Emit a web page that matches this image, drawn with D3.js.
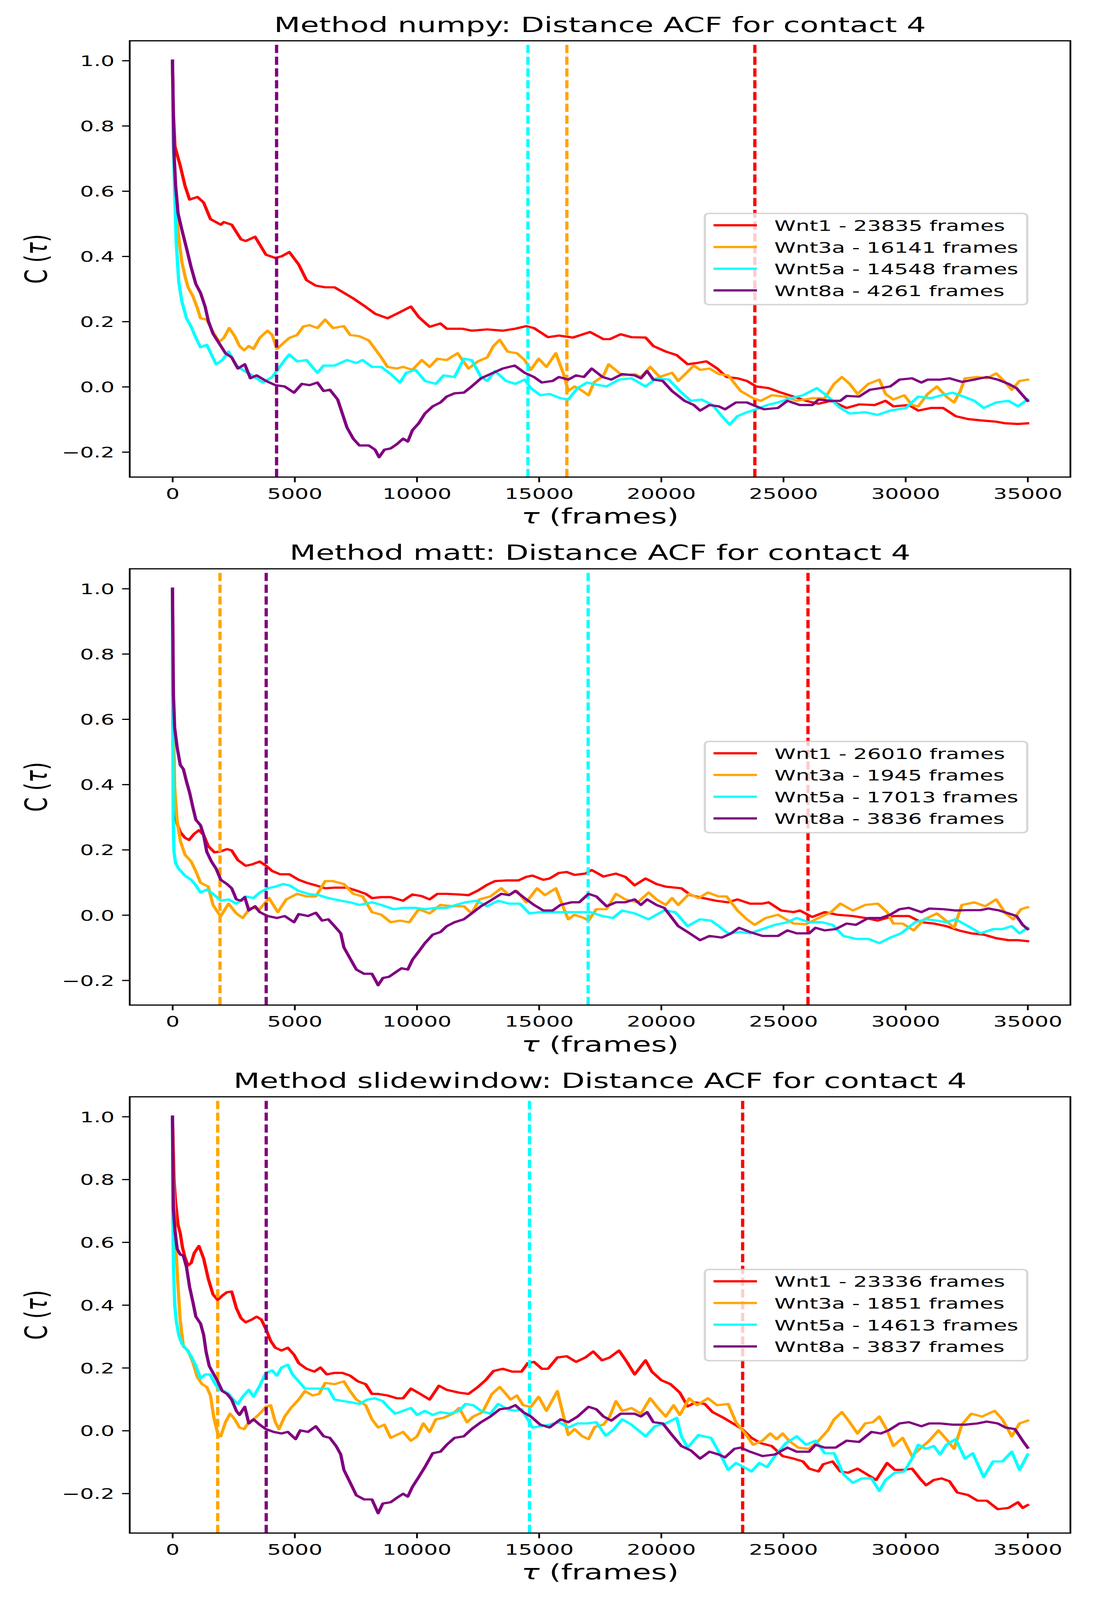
<!DOCTYPE html>
<html>
<head>
<meta charset="utf-8">
<script src="https://cdn.jsdelivr.net/npm/d3@7"></script>
<style>
  body { margin: 0; background: #fff; overflow: hidden; }
  svg { display: block; font-family: "DejaVu Sans", sans-serif; }
</style>
</head>
<body>
<div id="chart"></div>
<script>
// ACF curves, [tau (frames), C(tau)]
const numpyWnt1 = [[0,1.0],[30,0.847],[100,0.737],[320,0.677],[510,0.617],[700,0.574],[1020,0.582],[1275,0.565],[1556,0.514],[1977,0.497],[2100,0.505],[2423,0.497],[2806,0.452],[2998,0.447],[3380,0.46],[3826,0.405],[4209,0.395],[4464,0.4],[4783,0.413],[5166,0.375],[5485,0.327],[5867,0.31],[6250,0.305],[6633,0.305],[7015,0.288],[7398,0.271],[7908,0.245],[8291,0.224],[8801,0.21],[9184,0.224],[9758,0.246],[10077,0.214],[10523,0.184],[10969,0.194],[11224,0.178],[11862,0.178],[12245,0.172],[12883,0.176],[13520,0.172],[14031,0.178],[14477,0.186],[14796,0.18],[15370,0.152],[15816,0.157],[16390,0.151],[17092,0.168],[17640,0.146],[17895,0.146],[18342,0.161],[18788,0.152],[19362,0.151],[19681,0.125],[20191,0.108],[20638,0.097],[21084,0.069],[21467,0.073],[21850,0.078],[22296,0.056],[22679,0.03],[23125,0.026],[23508,0.018],[23890,0.001],[24400,-0.004],[24911,-0.018],[25421,-0.03],[25931,-0.043],[26441,-0.052],[26952,-0.043],[27590,-0.065],[28100,-0.054],[28737,-0.056],[29184,-0.043],[29503,-0.06],[30140,-0.056],[30523,-0.073],[31033,-0.065],[31543,-0.065],[32054,-0.09],[32564,-0.099],[33074,-0.103],[33712,-0.107],[34095,-0.112],[34605,-0.114],[35000,-0.112]];
const numpyWnt3a = [[0,1.0],[30,0.747],[128,0.547],[255,0.46],[383,0.383],[510,0.34],[638,0.305],[829,0.279],[1020,0.241],[1148,0.21],[1403,0.206],[1658,0.168],[1913,0.138],[2105,0.15],[2321,0.18],[2551,0.155],[2742,0.125],[2934,0.112],[3125,0.125],[3316,0.116],[3571,0.15],[3890,0.172],[4082,0.159],[4273,0.116],[4464,0.129],[4783,0.15],[5102,0.159],[5357,0.185],[5612,0.189],[5931,0.18],[6250,0.206],[6569,0.18],[7015,0.186],[7270,0.159],[7653,0.155],[8036,0.142],[8291,0.116],[8546,0.09],[8801,0.061],[9184,0.056],[9439,0.061],[9821,0.052],[10204,0.082],[10523,0.061],[10842,0.086],[11224,0.082],[11671,0.103],[12117,0.056],[12500,0.078],[12883,0.09],[13138,0.125],[13393,0.144],[13712,0.108],[14094,0.103],[14413,0.082],[14668,0.052],[14987,0.086],[15306,0.061],[15689,0.103],[16008,0.039],[16199,-0.013],[16454,0.001],[16709,-0.009],[17028,-0.026],[17258,0.014],[17640,0.034],[17850,0.069],[18406,0.035],[18916,0.039],[19171,0.03],[19554,0.061],[19936,0.03],[20446,0.043],[20701,0.018],[21339,0.065],[21594,0.052],[21977,0.056],[22360,0.039],[22743,0.035],[23253,-0.013],[23763,-0.035],[24082,-0.043],[24528,-0.026],[25038,-0.03],[25548,-0.043],[26186,-0.035],[26697,-0.035],[27079,0.009],[27398,0.03],[27717,0.009],[28036,-0.022],[28482,0.009],[28929,0.022],[29184,-0.022],[29503,-0.039],[29949,-0.026],[30268,-0.056],[30523,-0.06],[30906,-0.022],[31288,0.001],[31671,-0.03],[31990,-0.048],[32245,-0.013],[32436,0.026],[32946,0.03],[33329,0.026],[33712,0.041],[34031,0.018],[34350,-0.009],[34669,0.018],[35000,0.022]];
const numpyWnt5a = [[0,1.0],[38,0.747],[102,0.565],[153,0.443],[255,0.323],[383,0.262],[574,0.21],[765,0.184],[957,0.15],[1148,0.121],[1403,0.129],[1594,0.099],[1786,0.069],[2041,0.082],[2296,0.108],[2615,0.065],[2870,0.052],[3253,0.035],[3699,0.013],[4082,0.03],[4337,0.056],[4592,0.082],[4783,0.099],[5102,0.078],[5485,0.082],[5931,0.043],[6186,0.065],[6633,0.065],[7143,0.082],[7526,0.073],[7781,0.082],[8163,0.061],[8546,0.061],[8929,0.039],[9311,0.013],[9566,0.043],[9949,0.052],[10332,0.018],[10778,0.009],[11097,0.035],[11543,0.03],[11926,0.086],[12245,0.082],[12628,0.03],[12883,0.018],[13202,0.048],[13648,0.018],[14031,0.009],[14413,0.022],[14668,-0.004],[15051,-0.026],[15434,-0.022],[15880,-0.035],[16199,-0.039],[16582,-0.004],[16964,0.013],[17474,0.005],[17768,0.001],[18278,0.022],[18788,0.026],[19362,0.001],[19809,0.026],[20319,0.022],[20765,-0.013],[21212,-0.043],[21658,-0.039],[22105,-0.056],[22487,-0.09],[22806,-0.116],[23125,-0.09],[23508,-0.078],[23890,-0.069],[24337,-0.056],[24783,-0.048],[25293,-0.035],[25804,-0.026],[26377,-0.004],[26824,-0.03],[27334,-0.065],[27717,-0.082],[28355,-0.078],[28865,-0.086],[29375,-0.073],[30013,-0.065],[30523,-0.03],[31033,-0.035],[31480,-0.026],[31926,-0.018],[32373,-0.03],[32819,-0.043],[33202,-0.065],[33712,-0.048],[34222,-0.043],[34605,-0.06],[35000,-0.039]];
const numpyWnt8a = [[0,1.0],[64,0.717],[128,0.617],[230,0.531],[383,0.482],[574,0.425],[765,0.366],[957,0.315],[1148,0.288],[1339,0.245],[1467,0.202],[1658,0.163],[1913,0.133],[2168,0.103],[2423,0.09],[2679,0.056],[2959,0.069],[3189,0.026],[3444,0.035],[3826,0.018],[4209,0.005],[4592,0.001],[4974,-0.018],[5293,0.009],[5612,0.005],[5931,0.013],[6186,-0.013],[6441,-0.009],[6760,-0.039],[6952,-0.082],[7143,-0.125],[7398,-0.159],[7653,-0.18],[8036,-0.18],[8291,-0.193],[8457,-0.216],[8673,-0.193],[8929,-0.189],[9184,-0.176],[9439,-0.159],[9630,-0.168],[9821,-0.133],[10077,-0.112],[10332,-0.082],[10651,-0.06],[10969,-0.048],[11224,-0.03],[11543,-0.02],[11926,-0.018],[12245,0.001],[12628,0.026],[13010,0.039],[13520,0.056],[14005,0.065],[14413,0.043],[14796,0.03],[15115,0.013],[15561,0.018],[15816,0.03],[16199,0.022],[16518,0.035],[16837,0.03],[17156,0.056],[17602,0.03],[17959,0.022],[18406,0.039],[18916,0.035],[19171,0.026],[19426,0.048],[19681,0.022],[20064,0.018],[20446,-0.013],[20957,-0.043],[21339,-0.056],[21594,-0.073],[21977,-0.056],[22360,-0.06],[22615,-0.069],[23061,-0.048],[23508,-0.048],[23890,-0.06],[24209,-0.069],[24783,-0.065],[25166,-0.043],[25676,-0.056],[26186,-0.056],[26441,-0.039],[26952,-0.043],[27334,-0.043],[27590,-0.028],[28100,-0.03],[28546,-0.009],[28992,-0.004],[29375,0.001],[29758,0.022],[30268,0.026],[30651,0.013],[30906,0.022],[31416,0.022],[31799,0.026],[32309,0.015],[32819,0.022],[33329,0.03],[33775,0.022],[34222,0.009],[34541,-0.004],[34796,-0.026],[35000,-0.043]];

const mattWnt1 = [[0,1.0],[26,0.597],[89,0.323],[191,0.279],[319,0.254],[510,0.237],[676,0.23],[893,0.249],[1084,0.26],[1276,0.245],[1467,0.211],[1722,0.192],[1977,0.195],[2232,0.202],[2423,0.198],[2679,0.168],[2997,0.151],[3253,0.155],[3571,0.164],[3827,0.151],[4082,0.135],[4401,0.125],[4783,0.125],[5166,0.108],[5485,0.099],[5867,0.091],[6250,0.082],[6633,0.084],[7143,0.084],[7526,0.075],[7908,0.065],[8163,0.052],[8546,0.055],[8929,0.055],[9439,0.044],[9821,0.063],[10204,0.058],[10523,0.048],[10842,0.065],[11224,0.065],[11735,0.063],[12117,0.061],[12500,0.075],[12883,0.093],[13202,0.104],[13648,0.106],[14158,0.106],[14477,0.117],[14732,0.121],[15178,0.108],[15434,0.112],[15816,0.129],[16135,0.132],[16454,0.123],[16900,0.127],[17156,0.138],[17640,0.118],[18150,0.127],[18533,0.117],[18916,0.091],[19362,0.112],[19809,0.095],[20191,0.087],[20829,0.082],[21212,0.061],[21722,0.052],[22232,0.044],[22742,0.039],[23125,0.048],[23635,0.035],[24145,0.035],[24400,0.039],[24911,0.014],[25421,0.009],[25676,0.014],[26186,-0.006],[26697,0.009],[27206,0.001],[27844,-0.003],[28355,-0.009],[28865,-0.017],[29503,-0.003],[30140,-0.003],[30651,-0.022],[31161,-0.026],[31671,-0.034],[32181,-0.047],[32691,-0.056],[33202,-0.06],[33712,-0.071],[34222,-0.077],[34605,-0.077],[35000,-0.08]];
const mattWnt3a = [[0,1.0],[38,0.597],[89,0.392],[191,0.288],[319,0.228],[510,0.185],[765,0.164],[957,0.134],[1148,0.099],[1467,0.087],[1658,0.031],[1850,0.009],[1977,-0.003],[2296,0.035],[2615,0.005],[2870,-0.009],[3189,0.022],[3571,0.018],[3954,0.052],[4311,0.009],[4656,0.048],[5102,0.065],[5485,0.057],[5867,0.057],[6250,0.104],[6569,0.104],[7015,0.095],[7398,0.065],[7781,0.057],[8163,0.009],[8546,0.001],[8929,-0.022],[9311,-0.017],[9694,-0.022],[10077,0.018],[10523,0.005],[10969,0.031],[11479,0.027],[11926,0.027],[12245,0.005],[12564,0.048],[13010,0.057],[13457,0.082],[13776,0.061],[14094,0.074],[14477,0.039],[14923,0.082],[15242,0.061],[15689,0.082],[16008,0.022],[16199,-0.013],[16454,0.001],[16837,-0.009],[17028,-0.017],[17347,0.018],[17768,0.018],[18150,0.065],[18533,0.048],[19043,0.039],[19490,0.069],[19809,0.048],[20191,0.031],[20446,0.052],[20701,0.031],[21148,0.065],[21530,0.052],[21913,0.069],[22360,0.057],[22679,0.057],[23125,0.014],[23508,-0.013],[23827,-0.03],[24273,-0.009],[24783,0.001],[25421,-0.026],[25931,-0.028],[26441,-0.009],[26952,0.009],[27334,0.035],[27844,0.014],[28355,0.031],[28865,0.035],[29248,0.009],[29503,-0.026],[29885,-0.026],[30332,-0.047],[30778,-0.013],[31288,0.005],[31735,-0.022],[31990,-0.039],[32309,0.031],[32819,0.039],[33266,0.027],[33712,0.048],[34095,0.005],[34414,-0.013],[34733,0.018],[35000,0.024]];
const mattWnt5a = [[0,1.0],[10,0.597],[30,0.295],[60,0.194],[128,0.159],[255,0.142],[510,0.121],[765,0.108],[957,0.091],[1148,0.069],[1403,0.078],[1658,0.065],[1977,0.044],[2296,0.048],[2615,0.035],[2997,0.057],[3316,0.052],[3571,0.069],[3890,0.082],[4209,0.087],[4528,0.095],[4783,0.091],[5166,0.074],[5548,0.065],[5995,0.061],[6377,0.052],[6888,0.044],[7270,0.039],[7653,0.031],[8163,0.039],[8546,0.031],[9056,0.018],[9439,0.022],[9949,0.022],[10332,0.018],[10778,0.022],[11224,0.022],[11607,0.031],[11990,0.039],[12436,0.044],[12883,0.027],[13329,0.044],[13776,0.035],[14222,0.035],[14605,0.005],[15051,0.009],[15561,0.009],[16071,0.009],[16582,0.009],[17092,0.009],[17602,-0.003],[18023,-0.009],[18406,0.014],[18916,0.005],[19490,-0.013],[19809,0.001],[20128,0.014],[20574,0.009],[21084,-0.034],[21594,-0.013],[22041,-0.017],[22360,-0.034],[22742,-0.056],[23253,-0.052],[23635,-0.056],[24145,-0.043],[24656,-0.03],[25166,-0.022],[25548,-0.009],[26059,-0.022],[26569,-0.022],[27015,-0.03],[27462,-0.064],[27972,-0.073],[28482,-0.073],[28929,-0.086],[29375,-0.069],[29821,-0.056],[30395,-0.022],[30842,-0.013],[31288,-0.017],[31671,-0.022],[32054,-0.013],[32564,-0.034],[33074,-0.056],[33584,-0.043],[33967,-0.043],[34350,-0.034],[34669,-0.056],[35000,-0.039]];
const mattWnt8a = [[0,1.0],[38,0.677],[89,0.574],[191,0.514],[319,0.46],[446,0.447],[574,0.409],[702,0.375],[829,0.332],[957,0.292],[1148,0.275],[1276,0.245],[1403,0.194],[1595,0.164],[1786,0.142],[1977,0.108],[2232,0.095],[2423,0.082],[2615,0.048],[2806,0.044],[2959,0.055],[3125,0.014],[3380,0.027],[3571,0.009],[3890,-0.003],[4273,-0.009],[4592,-0.003],[4974,-0.022],[5166,0.003],[5548,-0.003],[5867,0.007],[6122,-0.017],[6377,-0.013],[6633,-0.034],[6888,-0.056],[7015,-0.099],[7270,-0.133],[7526,-0.167],[7844,-0.18],[8163,-0.18],[8291,-0.197],[8418,-0.215],[8610,-0.193],[8865,-0.189],[9120,-0.176],[9375,-0.163],[9630,-0.167],[9821,-0.137],[10077,-0.112],[10332,-0.086],[10651,-0.06],[10969,-0.052],[11224,-0.034],[11543,-0.022],[11926,-0.013],[12245,0.005],[12628,0.027],[13010,0.044],[13457,0.065],[13776,0.061],[14031,0.074],[14413,0.052],[14796,0.031],[15178,0.014],[15561,0.014],[15880,0.031],[16327,0.039],[16646,0.039],[17028,0.065],[17347,0.057],[17768,0.027],[18150,0.039],[18533,0.039],[18916,0.048],[19171,0.031],[19426,0.048],[19809,0.031],[20128,0.022],[20383,-0.003],[20701,-0.034],[21084,-0.052],[21594,-0.077],[21977,-0.064],[22487,-0.069],[22870,-0.056],[23189,-0.039],[23635,-0.052],[24145,-0.064],[24783,-0.064],[25166,-0.047],[25548,-0.056],[26059,-0.056],[26314,-0.039],[26697,-0.047],[27143,-0.043],[27590,-0.026],[27972,-0.03],[28482,-0.009],[28992,-0.009],[29375,0.001],[29758,0.018],[30140,0.022],[30651,0.009],[30970,0.02],[31543,0.018],[32054,0.014],[32564,0.015],[33074,0.015],[33393,0.02],[33839,0.014],[34222,0.005],[34541,-0.003],[34796,-0.03],[35000,-0.043]];

const slideWnt1 = [[0,1.0],[64,0.797],[128,0.726],[230,0.655],[319,0.628],[408,0.584],[510,0.552],[638,0.526],[765,0.534],[893,0.566],[1084,0.588],[1276,0.548],[1467,0.483],[1658,0.434],[1850,0.416],[2041,0.43],[2232,0.441],[2423,0.443],[2615,0.39],[2806,0.358],[2997,0.345],[3253,0.354],[3444,0.363],[3635,0.354],[3827,0.323],[4018,0.286],[4209,0.264],[4464,0.255],[4719,0.264],[4974,0.242],[5166,0.215],[5485,0.197],[5804,0.188],[6059,0.201],[6314,0.179],[6633,0.184],[6952,0.184],[7270,0.175],[7589,0.157],[7908,0.148],[8163,0.117],[8418,0.117],[8801,0.112],[9184,0.103],[9439,0.103],[9758,0.134],[10140,0.117],[10523,0.099],[10906,0.143],[11224,0.13],[11735,0.121],[12117,0.117],[12500,0.139],[12819,0.161],[13138,0.19],[13520,0.197],[13903,0.188],[14286,0.188],[14541,0.215],[14796,0.219],[15115,0.197],[15370,0.197],[15753,0.233],[16135,0.237],[16518,0.219],[16900,0.233],[17219,0.252],[17577,0.224],[17895,0.233],[18278,0.255],[18597,0.219],[18916,0.179],[19362,0.224],[19617,0.188],[20000,0.161],[20383,0.148],[20765,0.121],[21084,0.077],[21403,0.09],[21786,0.085],[22105,0.059],[22551,0.041],[22934,0.023],[23316,0.005],[23699,-0.023],[24082,-0.04],[24528,-0.049],[24975,-0.081],[25421,-0.089],[25804,-0.098],[26059,-0.121],[26441,-0.13],[26633,-0.107],[27015,-0.098],[27334,-0.13],[27653,-0.134],[28036,-0.121],[28418,-0.139],[28801,-0.157],[29248,-0.103],[29566,-0.125],[29885,-0.125],[30268,-0.121],[30587,-0.152],[30842,-0.174],[31161,-0.157],[31480,-0.152],[31799,-0.161],[32118,-0.197],[32564,-0.205],[32946,-0.223],[33329,-0.223],[33775,-0.25],[34222,-0.246],[34605,-0.228],[34796,-0.246],[35000,-0.237]];
const slideWnt3a = [[0,1.0],[38,0.797],[89,0.672],[153,0.566],[230,0.457],[319,0.35],[446,0.268],[638,0.255],[829,0.219],[1020,0.17],[1212,0.148],[1403,0.139],[1556,0.112],[1684,0.045],[1850,-0.009],[1977,-0.018],[2168,0.027],[2360,0.054],[2551,0.036],[2742,0.01],[2934,0.005],[3125,0.027],[3316,0.036],[3571,0.054],[3826,0.076],[4018,0.081],[4209,0.027],[4362,0.005],[4592,0.045],[4847,0.072],[5166,0.099],[5421,0.126],[5740,0.112],[5995,0.117],[6250,0.152],[6633,0.148],[7015,0.157],[7270,0.126],[7526,0.099],[7908,0.081],[8163,0.036],[8418,0.01],[8673,0.019],[8929,-0.023],[9311,-0.009],[9439,-0.004],[9758,-0.032],[10013,-0.018],[10268,0.023],[10523,-0.004],[10778,0.036],[11097,0.041],[11479,0.054],[11735,0.072],[12054,0.027],[12309,0.045],[12692,0.059],[13074,0.117],[13393,0.139],[13648,0.117],[13840,0.099],[14094,0.112],[14350,0.081],[14668,0.076],[14987,0.108],[15306,0.063],[15561,0.099],[15753,0.126],[16008,0.045],[16199,-0.014],[16454,0.005],[16773,-0.018],[17028,-0.027],[17283,0.012],[17640,0.019],[17895,0.045],[18150,0.094],[18406,0.063],[18788,0.072],[19171,0.054],[19554,0.103],[19872,0.072],[20191,0.045],[20510,0.081],[20765,0.05],[21148,0.103],[21467,0.081],[21913,0.103],[22296,0.081],[22742,0.085],[23061,0.027],[23444,-0.009],[23763,-0.045],[24145,-0.032],[24464,-0.009],[24719,-0.027],[24975,-0.009],[25230,-0.032],[25612,-0.054],[26059,-0.058],[26441,-0.032],[26824,0.001],[27079,0.036],[27398,0.059],[27717,0.027],[28036,-0.009],[28355,0.023],[28673,0.027],[28929,0.045],[29248,0.001],[29503,-0.049],[29885,-0.023],[30268,-0.081],[30587,-0.058],[30970,-0.032],[31352,0.001],[31671,-0.027],[31990,-0.058],[32309,0.019],[32691,0.054],[33138,0.045],[33648,0.063],[33967,0.036],[34350,-0.018],[34669,0.023],[35000,0.032]];
const slideWnt5a = [[0,1.0],[13,0.707],[38,0.53],[89,0.403],[153,0.35],[255,0.305],[383,0.277],[574,0.259],[765,0.237],[957,0.206],[1148,0.166],[1339,0.179],[1531,0.179],[1722,0.152],[1913,0.13],[2105,0.126],[2296,0.117],[2487,0.099],[2679,0.085],[2870,0.108],[3125,0.13],[3316,0.108],[3571,0.143],[3826,0.184],[4082,0.192],[4273,0.175],[4464,0.201],[4719,0.21],[4911,0.179],[5166,0.157],[5421,0.134],[5740,0.134],[6059,0.134],[6377,0.134],[6633,0.099],[7015,0.094],[7334,0.09],[7653,0.085],[7972,0.099],[8291,0.103],[8610,0.094],[8865,0.072],[9120,0.054],[9439,0.063],[9758,0.072],[10013,0.05],[10332,0.063],[10651,0.05],[10969,0.059],[11352,0.054],[11735,0.063],[11990,0.085],[12309,0.081],[12628,0.063],[13010,0.054],[13329,0.085],[13712,0.068],[14031,0.063],[14286,0.068],[14541,0.036],[14732,0.01],[15051,0.014],[15434,0.019],[15816,0.027],[16199,0.01],[16582,0.023],[16964,0.023],[17347,0.027],[17729,-0.016],[18023,0.001],[18406,0.036],[18788,0.019],[19362,-0.018],[19745,0.014],[20191,0.023],[20638,0.041],[20829,-0.018],[21084,-0.054],[21530,-0.014],[22041,-0.023],[22487,-0.085],[22742,-0.125],[23061,-0.103],[23380,-0.116],[23699,-0.13],[24018,-0.103],[24337,-0.116],[24656,-0.081],[25102,-0.04],[25548,-0.018],[25931,-0.045],[26314,-0.032],[26697,-0.072],[27079,-0.072],[27462,-0.139],[27844,-0.166],[28227,-0.152],[28610,-0.152],[28929,-0.192],[29184,-0.157],[29566,-0.134],[29949,-0.13],[30268,-0.089],[30523,-0.045],[30842,-0.058],[31161,-0.049],[31416,-0.076],[31671,-0.045],[32054,-0.027],[32436,-0.089],[32755,-0.072],[33202,-0.148],[33584,-0.098],[33967,-0.098],[34350,-0.067],[34669,-0.125],[35000,-0.076]];
const slideWnt8a = [[0,1.0],[38,0.707],[102,0.637],[191,0.579],[319,0.561],[446,0.557],[574,0.521],[702,0.457],[829,0.412],[957,0.363],[1148,0.341],[1276,0.305],[1378,0.25],[1505,0.206],[1658,0.184],[1850,0.157],[2041,0.126],[2232,0.117],[2423,0.099],[2615,0.063],[2742,0.05],[2959,0.076],[3125,0.023],[3316,0.036],[3571,0.019],[3826,0.005],[4145,-0.004],[4464,-0.009],[4719,-0.004],[5038,-0.027],[5230,0.001],[5548,-0.004],[5867,0.014],[6186,-0.018],[6441,-0.023],[6697,-0.049],[6888,-0.076],[7015,-0.125],[7270,-0.165],[7526,-0.206],[7844,-0.219],[8163,-0.219],[8418,-0.263],[8610,-0.232],[8929,-0.228],[9184,-0.214],[9439,-0.201],[9630,-0.21],[9821,-0.179],[10077,-0.148],[10332,-0.116],[10651,-0.072],[10969,-0.067],[11224,-0.045],[11543,-0.023],[11926,-0.018],[12245,0.005],[12628,0.027],[13010,0.045],[13393,0.068],[13776,0.072],[14031,0.081],[14350,0.059],[14668,0.045],[15051,0.019],[15434,0.01],[15880,0.036],[16199,0.027],[16582,0.045],[17028,0.076],[17347,0.068],[17640,0.045],[17959,0.032],[18342,0.054],[18916,0.054],[19171,0.045],[19426,0.059],[19681,0.027],[20064,0.023],[20446,-0.014],[20829,-0.049],[21212,-0.063],[21594,-0.089],[21977,-0.067],[22360,-0.076],[22615,-0.085],[22998,-0.058],[23253,-0.054],[23635,-0.067],[24145,-0.081],[24656,-0.076],[25166,-0.054],[25548,-0.067],[26059,-0.067],[26314,-0.045],[26697,-0.054],[27143,-0.054],[27590,-0.032],[28100,-0.036],[28610,-0.004],[28992,-0.009],[29311,0.001],[29758,0.023],[30140,0.027],[30651,0.014],[30970,0.023],[31416,0.023],[31926,0.019],[32436,0.019],[32946,0.023],[33329,0.029],[33775,0.023],[34095,0.01],[34478,0.005],[34796,-0.032],[35000,-0.054]];

// correlation time (frames) per construct, drawn as dashed lines
const numpyFrames = [23835, 16141, 14548, 4261];
const mattFrames = [26010, 1945, 17013, 3836];
const slideFrames = [23336, 1851, 14613, 3837];

const methods = ["numpy", "matt", "slidewindow"];
const seriesNames = ["Wnt1", "Wnt3a", "Wnt5a", "Wnt8a"];
const seriesColors = ["red", "orange", "cyan", "purple"];
const xTicks = [0, 5000, 10000, 15000, 20000, 25000, 30000, 35000];
const yTicks = [-0.2, 0.0, 0.2, 0.4, 0.6, 0.8, 1.0];

const panels = [
  { method: methods[0], series: [numpyWnt1, numpyWnt3a, numpyWnt5a, numpyWnt8a], frames: numpyFrames },
  { method: methods[1], series: [mattWnt1, mattWnt3a, mattWnt5a, mattWnt8a], frames: mattFrames },
  { method: methods[2], series: [slideWnt1, slideWnt3a, slideWnt5a, slideWnt8a], frames: slideFrames }
];

// figure is 7x15 in at 400 dpi
const pt = 400 / 72;
const width = 2800, height = 6000;
const axLeft = 332, axW = 2407.6, axH = 1636;
const axTops = [153, 2133, 4113];
const lineW = 1.5 * pt, spineW = 0.8 * pt;
const tickLen = 3.5 * pt, tickPad = 3.5 * pt;
const fsTick = 10 * pt, fsBig = 14 * pt;

// the window can be shorter than the figure, so scale the whole figure into it
const svg = d3.select("#chart").append("svg")
  .attr("width", window.innerWidth || width)
  .attr("height", window.innerHeight || height)
  .attr("viewBox", `0 0 ${width} ${height}`)
  .attr("preserveAspectRatio", "none");
svg.append("rect").attr("width", width).attr("height", height).attr("fill", "#fff");

const padded = (lo, hi) => [lo - 0.05 * (hi - lo), hi + 0.05 * (hi - lo)];

panels.forEach((p, pi) => {
  const g = svg.append("g").attr("transform", `translate(${axLeft},${axTops[pi]})`);

  const allPts = p.series.flat();
  const x = d3.scaleLinear()
    .domain(padded(d3.min(allPts, d => d[0]), d3.max(allPts, d => d[0])))
    .range([0, axW]);
  const y = d3.scaleLinear()
    .domain(padded(d3.min(allPts, d => d[1]), d3.max(allPts, d => d[1])))
    .range([axH, 0]);

  const line = d3.line().x(d => x(d[0])).y(d => y(d[1]));

  p.series.forEach((s, i) => {
    g.append("path")
      .datum(s)
      .attr("d", line)
      .attr("fill", "none")
      .attr("stroke", seriesColors[i])
      .attr("stroke-width", lineW)
      .attr("stroke-linejoin", "round")
      .attr("stroke-linecap", "square");
    g.append("line")
      .attr("x1", x(p.frames[i])).attr("x2", x(p.frames[i]))
      .attr("y1", axH).attr("y2", 0)
      .attr("stroke", seriesColors[i])
      .attr("stroke-width", lineW)
      .attr("stroke-dasharray", `${3.7 * 1.5 * pt} ${1.6 * 1.5 * pt}`);
  });

  // spines
  g.append("rect")
    .attr("width", axW).attr("height", axH)
    .attr("fill", "none").attr("stroke", "#000").attr("stroke-width", spineW);

  const xAxis = g.append("g")
    .attr("transform", `translate(0,${axH})`)
    .call(d3.axisBottom(x).tickValues(xTicks).tickFormat(d3.format("d"))
      .tickSize(tickLen).tickPadding(tickPad));
  const yAxis = g.append("g")
    .call(d3.axisLeft(y).tickValues(yTicks).tickFormat(d3.format(".1f"))
      .tickSize(tickLen).tickPadding(tickPad));

  [xAxis, yAxis].forEach(ax => {
    ax.select(".domain").remove();
    ax.attr("font-family", null).attr("font-size", null);
    ax.selectAll(".tick line").attr("stroke", "#000").attr("stroke-width", spineW);
    ax.selectAll(".tick text")
      .attr("fill", "#000")
      .style("font-family", "'DejaVu Sans'")
      .style("font-size", fsTick + "px");
  });
  xAxis.selectAll(".tick text").attr("dy", "0.76em");
  yAxis.selectAll(".tick text").attr("dy", "0.36em");

  // title
  g.append("text")
    .attr("x", axW / 2).attr("y", -6 * pt)
    .attr("text-anchor", "middle")
    .style("font-size", fsBig + "px")
    .text(`Method ${p.method}: Distance ACF for contact 4`);

  // x label
  const xl = g.append("text")
    .attr("x", axW / 2).attr("y", axH + 174)
    .attr("text-anchor", "middle")
    .style("font-size", fsBig + "px");
  xl.append("tspan").style("font-style", "italic").text("τ");
  xl.append("tspan").text(" (frames)");

  // y label
  const yl = g.append("text")
    .attr("transform", `translate(${120 - axLeft},${axH / 2}) rotate(-90)`)
    .attr("text-anchor", "middle")
    .style("font-size", fsBig + "px");
  yl.append("tspan").text("C (");
  yl.append("tspan").style("font-style", "italic").text("τ");
  yl.append("tspan").text(")");

  // legend
  const lg = g.append("g").attr("transform", `translate(${1804 - axLeft},647.5)`);
  lg.append("rect")
    .attr("width", 825).attr("height", 342)
    .attr("rx", 0.2 * fsTick).attr("ry", 0.2 * fsTick)
    .attr("fill", "#fff").attr("fill-opacity", 0.8)
    .attr("stroke", "#ccc").attr("stroke-opacity", 0.8)
    .attr("stroke-width", 1.0 * pt);
  seriesNames.forEach((name, i) => {
    const by = 65.3 + i * 81.4;
    lg.append("line")
      .attr("x1", 0.4 * fsTick + lineW / 2).attr("x2", 0.4 * fsTick + 2 * fsTick - lineW / 2)
      .attr("y1", by - 21).attr("y2", by - 21)
      .attr("stroke", seriesColors[i])
      .attr("stroke-width", lineW)
      .attr("stroke-linecap", "square");
    lg.append("text")
      .attr("x", 0.4 * fsTick + 2 * fsTick + 0.8 * fsTick)
      .attr("y", by)
      .style("font-size", fsTick + "px")
      .text(`${name} - ${p.frames[i]} frames`);
  });
});
</script>
</body>
</html>
